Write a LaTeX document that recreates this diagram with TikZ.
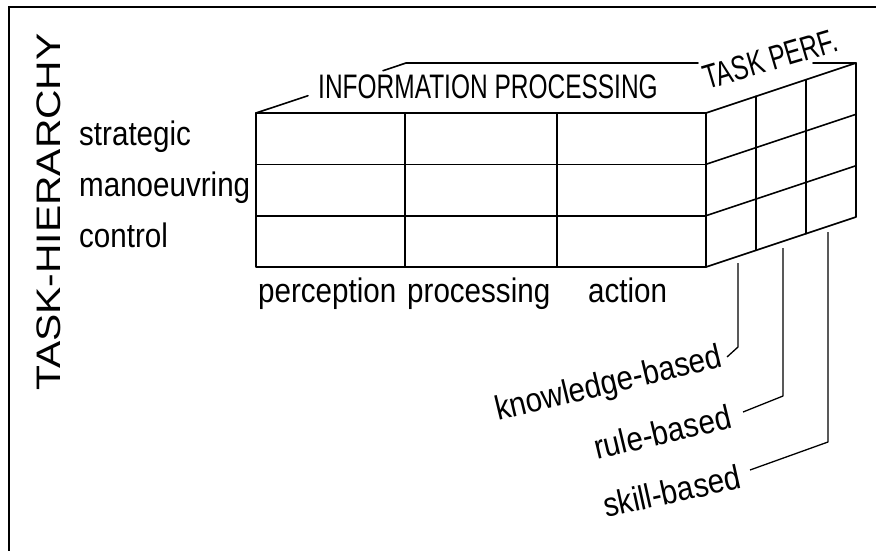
\documentclass[tikz,border=0pt]{standalone}
\usepackage{fontspec}
\setmainfont{Liberation Sans}[FakeStretch=0.87]
\newfontfamily\capsfont{Liberation Sans}[FakeStretch=0.72]
\newfontfamily\widefont{Liberation Sans}[FakeStretch=1.2]
\begin{document}
\begin{tikzpicture}[x=1pt,y=-1pt,
  grid/.style={line width=1.6pt, line cap=round, line join=round},
  leader/.style={line width=1.3pt, line join=round},
  lbl/.style={inner sep=0pt, anchor=base west, font=\fontsize{34}{40}\selectfont},
  caps/.style={inner sep=0pt, anchor=base west, font=\capsfont\fontsize{34}{40}\selectfont},
  wide/.style={inner sep=0pt, anchor=base west, font=\widefont\fontsize{34}{40}\selectfont}]
\useasboundingbox (0,0) rectangle (876,551);
% frame: top and left rules only
\draw[line width=2.8pt] (9,560) -- (9,7) -- (890,7);

% front face: 3 rows x 3 columns
\draw[grid] (256,113) rectangle (706,267);
\draw[grid] (256,164.3) -- (706,164.3);
\draw[grid] (256,215.7) -- (706,215.7);
\draw[grid] (405,113) -- (405,267);
\draw[grid] (557,113) -- (557,267);
\draw[line width=2.2pt] (256,267) -- (706,267);

% side face: 3 rows x 3 depth slices
\draw[grid] (706,113) -- (856,63) -- (856,217) -- (706,267);
\draw[grid] (706,164.3) -- (856,114.3);
\draw[grid] (706,215.7) -- (856,165.7);
\draw[grid] (756,96.3) -- (756,250.3);
\draw[grid] (806,79.7) -- (806,233.7);

% top face edges, broken where the headings sit
\draw[grid] (256,113) -- (308,95.7);
\draw[grid] (383,70.7) -- (406,63) -- (698,63);
\draw[grid] (813,63) -- (856,63);

% headings
\node[caps] (ip) at (318,99) {INFORMATION PROCESSING};
\node[caps, rotate=16.5] (tp) at (707,90) {TASK PERF.};
\node[wide, rotate=90] (th) at (60,391) {TASK-HIERARCHY};

% row and column labels
\node[lbl] (strat) at (79,145) {strategic};
\node[lbl] (man) at (79,196) {manoeuvring};
\node[lbl] (ctrl) at (79,247) {control};
\node[lbl] (perc) at (258,302) {perception};
\node[lbl] (proc) at (407,302) {processing};
\node[lbl] (act) at (588,302) {action};

% task-performance levels
\node[lbl, rotate=13.5] (kb) at (498,421) {knowledge-based};
\node[lbl, rotate=13.5] (rb) at (597,460) {rule-based};
\node[lbl, rotate=12.5] (sb) at (606,518) {skill-based};

% leader lines from the depth slices to their labels
\coordinate (kTop) at (738,263);
\coordinate (kKnee) at (738,347);
\coordinate (kEnd) at (727,357);
\coordinate (rTop) at (783,248);
\coordinate (rKnee) at (783,396);
\coordinate (rEnd) at (743,412);
\coordinate (sTop) at (828,232);
\coordinate (sKnee) at (828,442);
\coordinate (sEnd) at (750,470);
\draw[leader] (kTop) -- (kKnee) -- (kEnd);
\draw[leader] (rTop) -- (rKnee) -- (rEnd);
\draw[leader] (sTop) -- (sKnee) -- (sEnd);
\end{tikzpicture}
\end{document}
